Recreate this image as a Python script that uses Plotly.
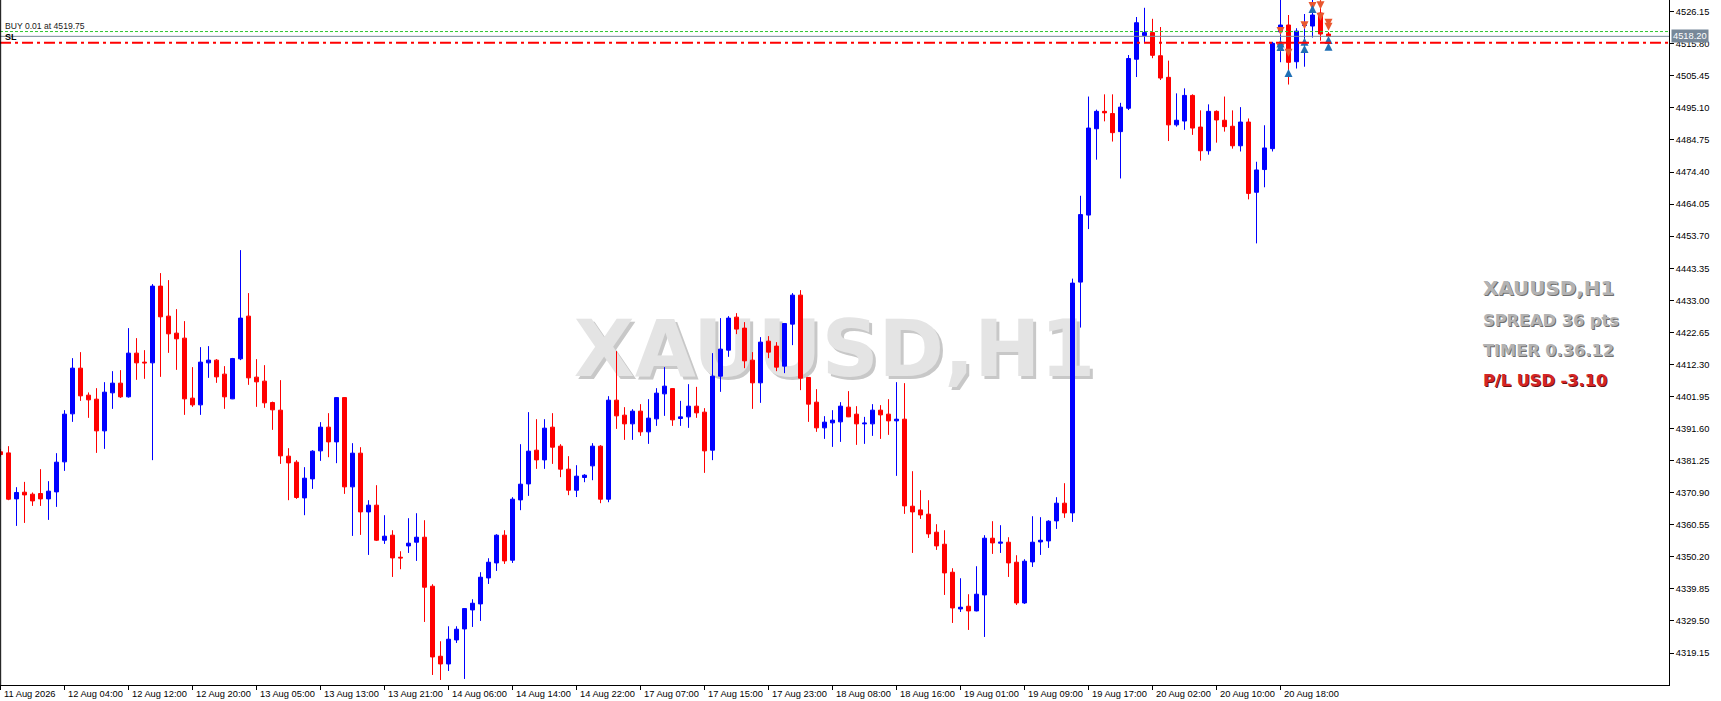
import plotly.graph_objects as go

# ---------------- data ----------------
tick_labels = ["11 Aug 2026", "12 Aug 04:00", "12 Aug 12:00", "12 Aug 20:00", "13 Aug 05:00",
               "13 Aug 13:00", "13 Aug 21:00", "14 Aug 06:00", "14 Aug 14:00", "14 Aug 22:00",
               "17 Aug 07:00", "17 Aug 15:00", "17 Aug 23:00", "18 Aug 08:00", "18 Aug 16:00",
               "19 Aug 01:00", "19 Aug 09:00", "19 Aug 17:00", "20 Aug 02:00", "20 Aug 10:00",
               "20 Aug 18:00"]
bars_per_label = 8

opens = [4384.10, 4383.75, 4368.90, 4371.06, 4370.42, 4370.64, 4368.90, 4371.16, 4380.85, 4396.35,
         4411.10, 4402.38, 4401.09, 4390.86, 4403.13, 4406.26, 4401.84, 4415.95, 4413.04, 4412.81,
         4437.58, 4427.89, 4422.40, 4420.79, 4401.42, 4399.25, 4412.81, 4413.69, 4409.17, 4401.19,
         4414.11, 4427.89, 4408.20, 4406.91, 4400.00, 4397.54, 4382.69, 4380.75, 4369.22, 4375.36,
         4384.40, 4392.05, 4387.30, 4401.60, 4372.78, 4383.66, 4364.70, 4366.87, 4355.56, 4357.18,
         4350.07, 4353.72, 4354.92, 4356.53, 4340.71, 4318.11, 4315.62, 4323.37, 4326.92, 4333.06,
         4335.00, 4343.39, 4348.23, 4357.18, 4349.11, 4368.58, 4373.74, 4384.62, 4381.49, 4392.05,
         4385.92, 4378.49, 4371.70, 4375.81, 4379.56, 4385.92, 4368.80, 4400.77, 4395.93, 4393.12,
         4397.22, 4390.54, 4394.73, 4402.80, 4404.50, 4394.86, 4395.38, 4398.83, 4396.90, 4384.62,
         4408.52, 4416.91, 4427.57, 4424.02, 4413.69, 4406.36, 4419.82, 4418.21, 4411.75, 4425.31,
         4434.67, 4408.10, 4400.12, 4391.83, 4393.44, 4393.76, 4398.51, 4396.25, 4393.12, 4393.12,
         4397.54, 4396.25, 4394.09, 4394.63, 4366.54, 4365.35, 4363.96, 4358.15, 4354.27, 4345.23,
         4333.38, 4334.25, 4332.74, 4337.90, 4356.21, 4354.60, 4354.92, 4348.46, 4335.32, 4348.56,
         4355.01, 4355.34, 4361.80, 4367.51, 4364.38, 4438.87, 4460.51, 4488.37, 4493.99, 4493.28,
         4487.44, 4494.99, 4510.81, 4518.47, 4519.40, 4511.94, 4504.97, 4489.63, 4490.86, 4499.13,
         4488.92, 4481.27, 4493.99, 4491.12, 4489.18, 4482.88, 4490.54, 4467.87, 4475.20, 4481.95,
         4519.66, 4521.86, 4510.01, 4521.70, 4521.53, 4525.73, 4518.95]
highs = [4385.00, 4385.92, 4372.68, 4374.39, 4370.97, 4378.49, 4374.62, 4383.66, 4397.54, 4414.33,
         4416.27, 4403.26, 4404.64, 4406.58, 4410.13, 4410.46, 4424.02, 4420.79, 4416.91, 4438.23,
         4441.78, 4439.52, 4430.15, 4426.28, 4411.43, 4417.88, 4418.21, 4414.01, 4411.75, 4414.40,
         4449.20, 4435.32, 4414.01, 4412.07, 4400.30, 4407.23, 4385.27, 4381.40, 4379.14, 4384.62,
         4393.67, 4396.57, 4401.74, 4401.74, 4386.89, 4385.59, 4368.48, 4373.32, 4363.64, 4358.79,
         4352.01, 4362.67, 4364.28, 4362.02, 4341.36, 4322.95, 4327.79, 4327.79, 4333.61, 4336.51,
         4345.23, 4349.75, 4357.50, 4358.79, 4369.45, 4386.56, 4396.90, 4394.63, 4394.63, 4396.57,
         4386.56, 4382.69, 4379.78, 4376.88, 4386.89, 4386.24, 4402.06, 4416.59, 4398.51, 4397.86,
         4399.48, 4401.09, 4404.64, 4411.43, 4404.64, 4400.54, 4405.93, 4405.06, 4398.19, 4415.95,
         4427.25, 4427.89, 4428.86, 4425.96, 4416.27, 4421.11, 4421.44, 4419.50, 4425.63, 4435.32,
         4436.29, 4408.20, 4404.32, 4395.60, 4397.54, 4400.12, 4403.68, 4398.83, 4395.38, 4399.48,
         4399.16, 4401.09, 4406.58, 4406.26, 4377.84, 4371.71, 4368.48, 4360.73, 4358.79, 4346.52,
         4343.29, 4338.13, 4347.17, 4357.18, 4361.70, 4360.41, 4356.53, 4350.72, 4349.43, 4363.31,
         4362.99, 4362.02, 4369.45, 4373.97, 4440.00, 4466.74, 4498.77, 4494.54, 4499.48, 4499.48,
         4496.74, 4512.17, 4524.44, 4527.41, 4523.86, 4521.21, 4510.36, 4499.80, 4501.42, 4499.48,
         4494.31, 4496.25, 4494.31, 4498.77, 4494.31, 4495.35, 4491.70, 4477.72, 4489.50, 4516.43,
         4530.50, 4525.09, 4520.82, 4525.41, 4530.50, 4530.30, 4519.60]
lows = [4382.50, 4368.48, 4360.18, 4361.15, 4366.64, 4366.64, 4362.12, 4366.32, 4377.94, 4393.76,
        4400.54, 4395.06, 4383.75, 4385.04, 4397.96, 4401.51, 4401.60, 4407.33, 4407.65, 4381.40,
        4408.29, 4416.04, 4410.55, 4396.02, 4398.61, 4396.02, 4407.97, 4406.36, 4397.96, 4401.10,
        4413.69, 4405.71, 4398.61, 4398.28, 4391.18, 4380.20, 4368.48, 4368.90, 4363.64, 4372.13,
        4381.17, 4382.36, 4380.43, 4370.52, 4356.95, 4357.28, 4350.82, 4355.30, 4354.37, 4343.71,
        4346.20, 4351.46, 4348.88, 4329.18, 4312.07, 4310.45, 4313.36, 4322.40, 4310.78, 4327.57,
        4329.51, 4341.45, 4345.65, 4347.91, 4348.23, 4365.25, 4369.87, 4378.59, 4378.59, 4380.20,
        4375.91, 4370.10, 4369.50, 4374.29, 4374.93, 4367.51, 4367.83, 4391.50, 4387.95, 4387.95,
        4389.24, 4386.66, 4392.47, 4395.70, 4392.47, 4392.47, 4391.83, 4395.06, 4377.30, 4381.40,
        4403.45, 4414.75, 4422.08, 4411.10, 4397.96, 4399.90, 4414.33, 4410.13, 4409.49, 4418.53,
        4404.00, 4393.76, 4390.54, 4388.27, 4385.69, 4387.30, 4395.30, 4386.34, 4386.66, 4389.24,
        4388.27, 4389.57, 4376.33, 4364.06, 4351.46, 4362.44, 4356.31, 4352.43, 4337.90, 4328.86,
        4332.41, 4326.60, 4332.60, 4324.34, 4351.14, 4351.46, 4343.71, 4334.67, 4335.00, 4346.94,
        4350.82, 4353.08, 4359.21, 4362.77, 4361.48, 4424.20, 4455.99, 4478.39, 4490.76, 4484.24,
        4472.32, 4494.41, 4505.07, 4516.17, 4511.14, 4504.10, 4484.40, 4489.05, 4488.02, 4486.40,
        4478.07, 4480.01, 4483.88, 4487.44, 4481.95, 4481.04, 4465.58, 4451.37, 4469.48, 4481.04,
        4509.85, 4502.64, 4507.81, 4508.39, 4517.82, 4516.79, 4517.80]
closes = [4383.20, 4368.80, 4370.97, 4370.19, 4368.25, 4368.90, 4371.39, 4380.75, 4396.25, 4411.10,
          4402.16, 4400.87, 4390.86, 4403.35, 4406.26, 4401.84, 4415.95, 4412.81, 4412.81, 4437.58,
          4427.67, 4422.18, 4420.56, 4401.19, 4399.25, 4413.04, 4413.69, 4408.29, 4401.84, 4414.20,
          4427.25, 4407.97, 4406.68, 4399.90, 4397.64, 4382.79, 4380.52, 4369.35, 4375.58, 4384.30,
          4392.05, 4387.30, 4401.60, 4372.78, 4383.66, 4364.70, 4366.87, 4355.56, 4356.86, 4349.85,
          4349.85, 4354.60, 4356.53, 4340.39, 4317.88, 4315.62, 4323.60, 4326.83, 4333.50, 4335.22,
          4343.62, 4348.46, 4357.18, 4348.88, 4368.80, 4373.65, 4384.30, 4381.49, 4391.73, 4385.59,
          4378.49, 4371.71, 4376.23, 4376.55, 4385.92, 4368.80, 4400.77, 4395.70, 4393.12, 4397.22,
          4390.54, 4394.96, 4403.03, 4405.29, 4394.41, 4395.38, 4398.83, 4396.67, 4384.40, 4408.52,
          4417.24, 4427.25, 4423.70, 4413.46, 4406.36, 4419.50, 4416.27, 4411.43, 4425.50, 4434.67,
          4407.87, 4399.48, 4391.83, 4393.67, 4394.31, 4398.83, 4395.38, 4393.12, 4393.35, 4397.54,
          4396.02, 4394.09, 4394.63, 4366.64, 4364.70, 4363.73, 4357.60, 4353.72, 4345.01, 4333.70,
          4333.93, 4332.74, 4338.13, 4356.21, 4354.69, 4354.92, 4348.23, 4335.32, 4348.78, 4354.92,
          4355.56, 4361.70, 4367.51, 4364.38, 4438.55, 4460.67, 4488.60, 4493.99, 4493.51, 4487.11,
          4495.35, 4511.04, 4522.60, 4519.40, 4512.07, 4504.74, 4489.63, 4491.12, 4499.13, 4488.60,
          4481.27, 4493.99, 4491.21, 4489.05, 4482.88, 4490.54, 4467.51, 4475.07, 4482.17, 4515.95,
          4521.86, 4509.81, 4519.89, 4521.86, 4525.09, 4518.95, 4518.20]

# trade arrows (bar index, price)
buy_bars = [160, 160, 161, 163, 163, 164, 166, 166]
buy_prices = [4517.17, 4516.05, 4507.65, 4517.76, 4515.40, 4528.32, 4518.31, 4516.14]
sell_bars = [160, 160, 161, 163, 164, 165, 165, 165, 166, 166]
sell_prices = [4518.63, 4513.24, 4511.62, 4520.47, 4526.70, 4529.45, 4526.93, 4523.25, 4521.31, 4520.02]

y_ticks = [4526.15, 4515.80, 4505.45, 4495.10, 4484.75, 4474.40, 4464.05, 4453.70, 4443.35,
           4433.00, 4422.65, 4412.30, 4401.95, 4391.60, 4381.25, 4370.90, 4360.55, 4350.20,
           4339.85, 4329.50, 4319.15]

buy_price = 4519.75
bid_price = 4518.20
sl_price = 4516.10
symbol = "XAUUSD,H1"
spread_pts = 36
timer_text = "0.36.12"
pl_usd = -3.10

# ---------------- figure ----------------
bar_index = list(range(len(opens)))
FONT = "Liberation Sans, Arial, sans-serif"
BOLD = "DejaVu Sans, sans-serif"

fig = go.Figure()
fig.add_trace(go.Candlestick(
    x=bar_index, open=opens, high=highs, low=lows, close=closes,
    increasing=dict(line=dict(color="#0000ff", width=1), fillcolor="#0000ff"),
    decreasing=dict(line=dict(color="#ff0000", width=1), fillcolor="#ff0000"),
    whiskerwidth=0, hoverinfo="skip", showlegend=False,
))
fig.add_trace(go.Scatter(x=sell_bars, y=sell_prices, mode="markers",
                         marker=dict(symbol="arrow-down", size=8, color="#e9572f"),
                         hoverinfo="skip", showlegend=False))
fig.add_trace(go.Scatter(x=buy_bars, y=buy_prices, mode="markers",
                         marker=dict(symbol="arrow-up", size=8, color="#1f6fb5"),
                         hoverinfo="skip", showlegend=False))

shapes = []
# watermark (below candles) with shadow
for dx, dy, col in [(0.0018, -0.0045, "#c8c8c8"), (0.0, 0.0, "#e4e4e4")]:
    shapes.append(dict(type="rect", xref="paper", yref="paper",
                       x0=0.30 + dx, x1=0.70 + dx, y0=0.40 + dy, y1=0.60 + dy,
                       line=dict(width=0), fillcolor="rgba(0,0,0,0)", layer="below",
                       label=dict(text="<b>" + symbol + "</b>", textposition="middle center",
                                  font=dict(family=BOLD, size=79, color=col))))
# horizontal lines
shapes.append(dict(type="line", xref="paper", x0=0, x1=1, y0=buy_price, y1=buy_price,
                   line=dict(color="#2fc82f", width=1, dash="3px,2px")))
shapes.append(dict(type="line", xref="paper", x0=0, x1=1, y0=bid_price, y1=bid_price,
                   line=dict(color="#778899", width=1)))
shapes.append(dict(type="line", xref="paper", x0=0, x1=1, y0=sl_price, y1=sl_price,
                   line=dict(color="#ff0000", width=2, dash="11px,4px,3px,4px")))
# left frame line
shapes.append(dict(type="line", xref="paper", yref="paper", x0=0.0004, x1=0.0004, y0=0, y1=1,
                   line=dict(color="black", width=1)))

annotations = []
# x tick labels (left-aligned after the tick like MT5)
for i, lab in enumerate(tick_labels):
    annotations.append(dict(x=i * bars_per_label, xref="x", y=0, yref="paper", text=lab,
                            showarrow=False, xanchor="left", yanchor="top", xshift=1, yshift=-2,
                            font=dict(family=FONT, size=9.3, color="black")))
# bid price box on y axis
annotations.append(dict(x=1, xref="paper", y=bid_price, yref="y", text=f"{bid_price:.2f}",
                        showarrow=False, xanchor="left", yanchor="middle", xshift=2,
                        bgcolor="#778899", borderpad=1,
                        font=dict(family=FONT, size=9.3, color="white")))
# order labels
annotations.append(dict(x=0, xref="paper", y=buy_price, yref="y", text=f"BUY 0.01 at {buy_price:.2f}",
                        showarrow=False, xanchor="left", yanchor="bottom", xshift=3, yshift=-1,
                        font=dict(family=FONT, size=8.6, color="#202020")))
annotations.append(dict(x=0, xref="paper", y=sl_price, yref="y", text="<b>SL</b>",
                        showarrow=False, xanchor="left", yanchor="bottom", xshift=3, yshift=-1,
                        font=dict(family=FONT, size=9, color="black")))
# info panel
panel = [(f"{symbol}", 19.9, 0.5785, "#b3b3b3", "#6e6e6e"),
         (f"SPREAD {spread_pts} pts", 16.2, 0.5328, "#b3b3b3", "#6e6e6e"),
         (f"TIMER {timer_text}", 16.2, 0.4885, "#b3b3b3", "#6e6e6e"),
         (f"P/L USD {pl_usd:.2f}", 16.2, 0.4450, "#d42525", "#6a1212")]
for txt, sz, yp, col, shcol in panel:
    for xs, ys, c in [(1, -1, shcol), (0, 0, col)]:
        annotations.append(dict(x=0.8874, xref="paper", y=yp, yref="paper", text="<b>" + txt + "</b>",
                                showarrow=False, xanchor="left", yanchor="middle", xshift=xs, yshift=ys,
                                font=dict(family=BOLD, size=sz, color=c)))

fig.update_layout(
    width=1721, height=701,
    margin=dict(l=0, r=52, t=0, b=16),
    plot_bgcolor="white", paper_bgcolor="white",
    showlegend=False, boxgap=0.5, boxgroupgap=0,
    shapes=shapes, annotations=annotations,
    xaxis=dict(range=[-0.0625, 208.5625], rangeslider=dict(visible=False), showgrid=False,
               zeroline=False, showline=True, linecolor="black", linewidth=1,
               ticks="outside", ticklen=4, tickcolor="black", tickwidth=1,
               tickvals=[i * bars_per_label for i in range(len(tick_labels))],
               showticklabels=False, fixedrange=True),
    yaxis=dict(side="right", range=[4308.83, 4529.93], showgrid=False, zeroline=False,
               showline=True, linecolor="black", linewidth=1, ticks="outside", ticklen=4,
               tickcolor="black", tickvals=y_ticks, tickformat=".2f",
               tickfont=dict(family=FONT, size=9.3, color="black"), fixedrange=True),
)

fig.write_html("out.html", config={"displayModeBar": False},
               post_script="document.body.style.margin='0';document.body.style.overflow='hidden';")
